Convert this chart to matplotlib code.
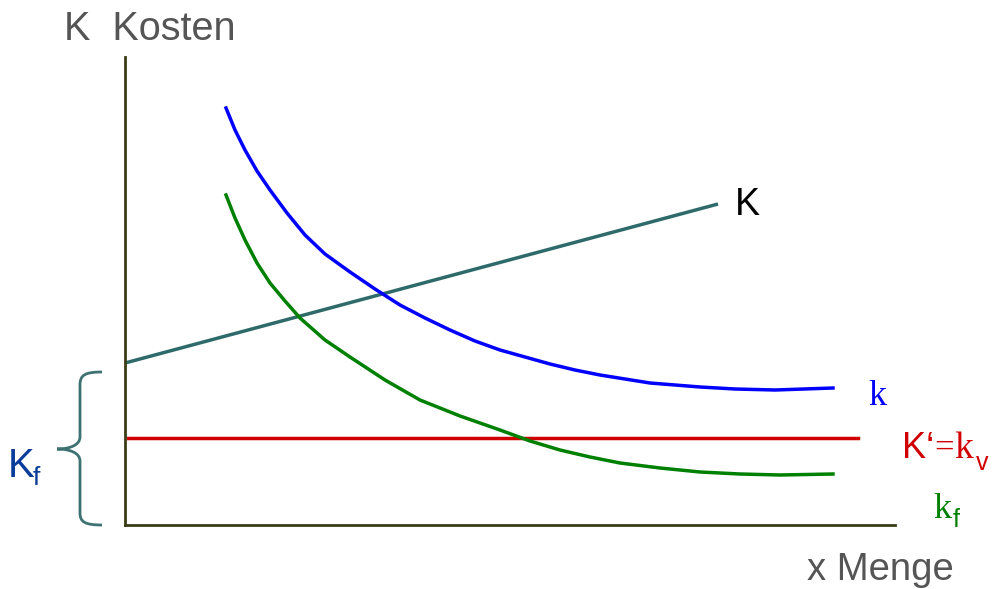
import matplotlib
matplotlib.use("Agg")
import matplotlib.pyplot as plt
from matplotlib.path import Path
from matplotlib.patches import PathPatch

# ---- data (units) ----
k_x = [101, 110, 120, 132, 145, 162, 180, 200, 225, 250, 275, 300, 325, 350, 375, 400, 425, 450, 475, 500, 525, 550, 575, 610, 650, 708]
k_y = [417, 395, 375, 354, 335, 312, 290, 271, 253, 236, 220, 207, 195, 184, 175, 168, 161, 155, 150, 146, 142, 140, 138, 136, 135, 137]

kf_x = [101, 110, 120, 132, 145, 160, 175, 200, 225, 260, 295, 335, 375, 405, 435, 465, 495, 535, 575, 615, 655, 708]
kf_y = [330, 307, 285, 262, 242, 224, 207, 185, 168, 145, 125, 109, 95, 84, 75, 68, 62, 57, 53, 51, 50, 51]

K_x = [0, 593]
K_y = [162, 321]

kv_x = [3, 733]
kv_y = [87, 87]

SANS = "Liberation Sans"
NARROW = ["Liberation Sans Narrow", "Liberation Sans"]
SERIF = "Liberation Serif"

fig = plt.figure(figsize=(9.94, 5.89), dpi=100)
ax = fig.add_axes([125/994, 64/589, 770/994, 468/589])
ax.set_xlim(0, 770)
ax.set_ylim(0, 468)
for s in ("top", "right"):
    ax.spines[s].set_visible(False)
for s in ("left", "bottom"):
    ax.spines[s].set_color("#3c3c14")
    ax.spines[s].set_linewidth(2)
ax.set_xticks([])
ax.set_yticks([])

ax.plot(K_x, K_y, color="#2f6a6a", lw=2.5, clip_on=False, solid_capstyle="butt")
ax.plot(kv_x, kv_y, color="#d00000", lw=2.5, clip_on=False)
ax.plot(k_x, k_y, color="#0000ff", lw=2.5, clip_on=False)
ax.plot(kf_x, kf_y, color="#008000", lw=2.5, clip_on=False)

# brace
verts = [(-23, 153), (-40, 153), (-45, 150), (-45, 140),
         (-45, 88),
         (-45, 80), (-55, 76), (-68, 76),
         (-55, 76), (-45, 72), (-45, 64),
         (-45, 12),
         (-45, 3), (-40, 0), (-23, 0)]
codes = [Path.MOVETO, Path.CURVE4, Path.CURVE4, Path.CURVE4,
         Path.LINETO,
         Path.CURVE4, Path.CURVE4, Path.CURVE4,
         Path.CURVE4, Path.CURVE4, Path.CURVE4,
         Path.LINETO,
         Path.CURVE4, Path.CURVE4, Path.CURVE4]
ax.add_patch(PathPatch(Path(verts, codes), fill=False, ec="#3e7272", lw=2, clip_on=False))

gray = "#555555"
ax.text(-61, 485, "K  Kosten", fontsize=28.5, color=gray, family=SANS, va="baseline", ha="left", clip_on=False)
ax.text(682, -55, "x Menge", fontsize=27.5, color=gray, family=SANS, va="baseline", ha="left", clip_on=False)
ax.text(610, 310, "K", fontsize=27, color="black", family=SANS, va="baseline", ha="left", clip_on=False)
ax.text(743, 120, "k", fontsize=26, color="#0000ff", family=SERIF, va="baseline", ha="left", clip_on=False)

red = "#d00000"
ax.text(777, 67, "K\u2018", fontsize=26, color=red, family=NARROW, va="baseline", ha="left", clip_on=False)
ax.text(809, 67, "=", fontsize=25, color=red, family=SERIF, va="baseline", ha="left", clip_on=False)
ax.text(829, 67, "k", fontsize=27, color=red, family=SERIF, va="baseline", ha="left", clip_on=False)
ax.text(851, 55, "v", fontsize=18, color=red, family=SANS, va="baseline", ha="left", clip_on=False)

green = "#008000"
ax.text(808, 7, "k", fontsize=26, color=green, family=SERIF, va="baseline", ha="left", clip_on=False)
ax.text(828, -2, "f", fontsize=18, color=green, family=SANS, va="baseline", ha="left", clip_on=False)

navy = "#0a3c9a"
ax.text(-117, 48, "K", fontsize=29, color=navy, family=SANS, va="baseline", ha="left", clip_on=False)
ax.text(-92, 40, "f", fontsize=19, color=navy, family=SANS, va="baseline", ha="left", clip_on=False)

fig.savefig("out.png", dpi=100)
